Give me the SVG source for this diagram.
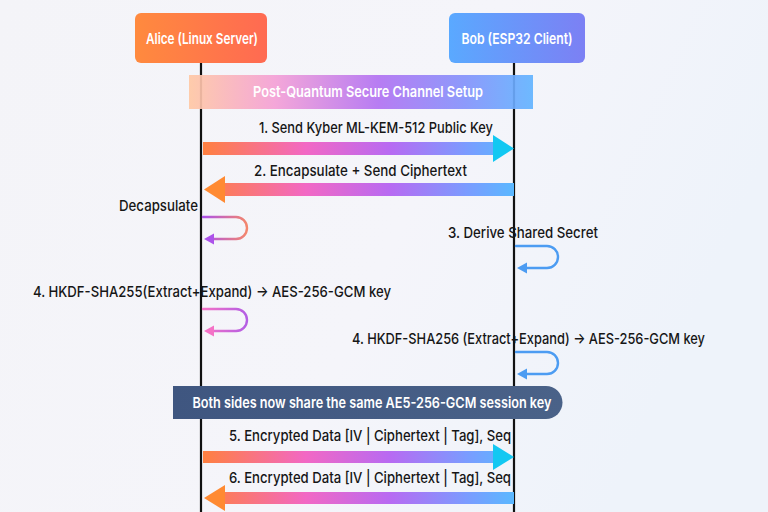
<svg xmlns="http://www.w3.org/2000/svg" width="768" height="512" viewBox="0 0 768 512">
<defs>
<linearGradient id="bg" x1="0" y1="0" x2="1" y2="0.3">
<stop offset="0" stop-color="#f4f4f8"/>
<stop offset="0.6" stop-color="#f5f5fa"/>
<stop offset="1" stop-color="#eef3fa"/>
</linearGradient>
<linearGradient id="gAlice" x1="0" y1="0" x2="1" y2="0">
<stop offset="0" stop-color="#ff8a3e"/>
<stop offset="1" stop-color="#ff6a52"/>
</linearGradient>
<linearGradient id="gBob" x1="0" y1="0" x2="1" y2="0">
<stop offset="0" stop-color="#5aa9ff"/>
<stop offset="1" stop-color="#7c80f4"/>
</linearGradient>
<linearGradient id="gSetup" gradientUnits="userSpaceOnUse" x1="189" y1="0" x2="533" y2="0">
<stop offset="0" stop-color="#ffc8a4"/>
<stop offset="0.25" stop-color="#f4a0d6"/>
<stop offset="0.55" stop-color="#b272f2"/>
<stop offset="0.8" stop-color="#8492fb"/>
<stop offset="1" stop-color="#62b4ff"/>
</linearGradient>
<linearGradient id="gArrow" gradientUnits="userSpaceOnUse" x1="203" y1="0" x2="514" y2="0">
<stop offset="0" stop-color="#ff8040"/>
<stop offset="0.33" stop-color="#f268c4"/>
<stop offset="0.6" stop-color="#b86af2"/>
<stop offset="0.85" stop-color="#7a9cff"/>
<stop offset="1" stop-color="#5ab8ff"/>
</linearGradient>
<linearGradient id="gLoopA" x1="0" y1="0" x2="1" y2="0">
<stop offset="0" stop-color="#ac52ea"/>
<stop offset="1" stop-color="#f4866c"/>
</linearGradient>
<linearGradient id="gLoopB" x1="0" y1="0" x2="1" y2="0">
<stop offset="0" stop-color="#f472c6"/>
<stop offset="1" stop-color="#b45ee4"/>
</linearGradient>
<linearGradient id="gSession" x1="0" y1="0" x2="1" y2="0">
<stop offset="0" stop-color="#3f5680"/>
<stop offset="1" stop-color="#4a6288"/>
</linearGradient>
</defs>
<style>
text{font-family:Inter,"Noto Sans",sans-serif;font-weight:500;}
.node{font-size:15px;fill:#ffffff;text-anchor:middle;font-weight:600;}
.lbl{font-size:15px;fill:#161616;}
.life{stroke:#111111;stroke-width:2.2;}
.loop{fill:none;stroke-width:2.4;stroke-linecap:round;}
</style>
<rect x="0" y="0" width="768" height="512" fill="url(#bg)"/>

<g id="lifelines">
<line class="life" x1="201" y1="62" x2="201" y2="512"/>
<line class="life" x1="514" y1="62" x2="514" y2="512"/>
</g>

<g id="alice">
<rect x="135" y="13" width="132" height="50" rx="6" fill="url(#gAlice)"/>
<text class="node" x="202" y="44" textLength="112" lengthAdjust="spacingAndGlyphs">Alice (Linux Server)</text>
</g>

<g id="bob">
<rect x="449" y="13" width="136" height="50" rx="6" fill="url(#gBob)"/>
<text class="node" x="517" y="44" textLength="111" lengthAdjust="spacingAndGlyphs">Bob (ESP32 Client)</text>
</g>

<g id="setup">
<rect x="189" y="75" width="344" height="34" fill="url(#gSetup)" opacity="0.92"/>
<text class="node" x="368" y="97" textLength="230" lengthAdjust="spacingAndGlyphs">Post-Quantum Secure Channel Setup</text>
</g>

<g id="connectors">
<text class="lbl" x="259" y="133" textLength="234" lengthAdjust="spacingAndGlyphs">1. Send Kyber ML-KEM-512 Public Key</text>
<rect x="203" y="142" width="291" height="13" fill="url(#gArrow)"/>
<polygon points="493,135 514,148.5 493,162" fill="#12c8f2"/>
<text class="lbl" x="254" y="176" textLength="213" lengthAdjust="spacingAndGlyphs">2. Encapsulate + Send Ciphertext</text>
<rect x="223" y="183" width="291" height="13" fill="url(#gArrow)"/>
<polygon points="225,176 204,189.5 225,203" fill="#ff8a32"/>
<text class="lbl" x="119" y="211" textLength="79" lengthAdjust="spacingAndGlyphs">Decapsulate</text>
<path class="loop" stroke="url(#gLoopA)" d="M203,217 H236 A11,11 0 0 1 236,239 H212"/>
<polygon points="204,239 214,233.5 214,244.5" fill="#ac52ea"/>
<text class="lbl" x="448" y="238" textLength="150" lengthAdjust="spacingAndGlyphs">3. Derive Shared Secret</text>
<path class="loop" stroke="#4c9cf2" d="M516,246 H547 A11,11 0 0 1 547,268 H525"/>
<polygon points="517,268 527,262.5 527,273.5" fill="#4c9cf2"/>
<text class="lbl" x="33" y="297" textLength="358" lengthAdjust="spacingAndGlyphs">4. HKDF-SHA255(Extract+Expand) → AES-256-GCM key</text>
<path class="loop" stroke="url(#gLoopB)" d="M203,309 H236 A11,11 0 0 1 236,331 H212"/>
<polygon points="204,331 214,325.5 214,336.5" fill="#f472c6"/>
<text class="lbl" x="352" y="344" textLength="353" lengthAdjust="spacingAndGlyphs">4. HKDF-SHA256 (Extract+Expand) → AES-256-GCM key</text>
<path class="loop" stroke="#4c9cf2" d="M516,352 H547 A11,11 0 0 1 547,374 H525"/>
<polygon points="517,374 527,368.5 527,379.5" fill="#4c9cf2"/>
<text class="lbl" x="229" y="441" textLength="282" lengthAdjust="spacingAndGlyphs">5. Encrypted Data [IV | Ciphertext | Tag], Seq</text>
<rect x="203" y="451" width="291" height="12" fill="url(#gArrow)"/>
<polygon points="493,444 514,457 493,470" fill="#12c8f2"/>
<text class="lbl" x="229" y="483" textLength="282" lengthAdjust="spacingAndGlyphs">6. Encrypted Data [IV | Ciphertext | Tag], Seq</text>
<rect x="223" y="492" width="291" height="12" fill="url(#gArrow)"/>
<polygon points="225,485 204,498 225,511" fill="#ff8a32"/>
</g>

<g id="session">
<path d="M173,386 H546 A16.5,16.5 0 0 1 546,419 H173 Z" fill="url(#gSession)"/>
<text class="node" x="372" y="408" textLength="359" lengthAdjust="spacingAndGlyphs">Both sides now share the same AE5-256-GCM session key</text>
</g>
</svg>
